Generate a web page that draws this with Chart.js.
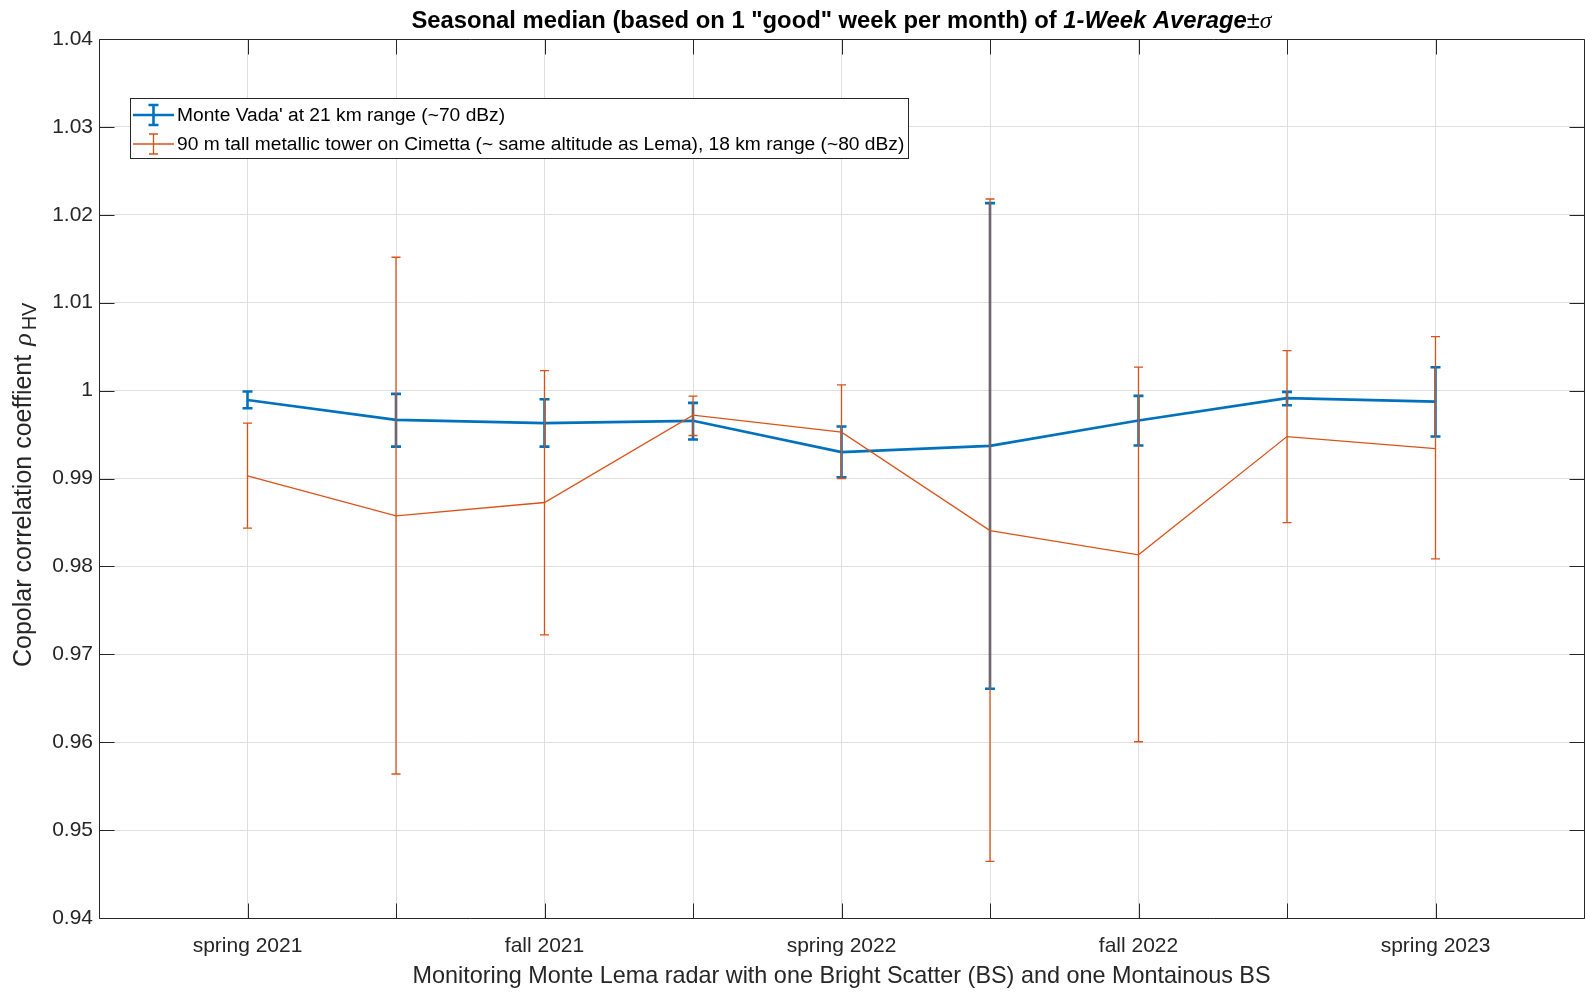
<!DOCTYPE html>
<html>
<head>
<meta charset="utf-8">
<script src="https://cdn.jsdelivr.net/npm/chart.js@4.4.1/dist/chart.umd.min.js"></script>
<style>
html,body{margin:0;padding:0;background:#fff;}
canvas{display:block;}
</style>
</head>
<body>
<canvas id="c" width="1585" height="992" style="width:1585px;height:992px"></canvas>
<script>
// ---- data ----
const categories = ['spring 2021','summer 2021','fall 2021','winter 2021','spring 2022','summer 2022','fall 2022','winter 2022','spring 2023'];
const xTickLabels = ['spring 2021','','fall 2021','','spring 2022','','fall 2022','','spring 2023'];
const yTicks = [0.94,0.95,0.96,0.97,0.98,0.99,1.00,1.01,1.02,1.03,1.04];

const vadaMedian = [0.99894, 0.99667, 0.99630, 0.99656, 0.99300, 0.99371, 0.99659, 0.99914, 0.99875];
const vadaLower  = [0.99800, 0.99363, 0.99363, 0.99443, 0.99015, 0.96608, 0.99375, 0.99834, 0.99477];
const vadaUpper  = [0.99989, 0.99963, 0.99902, 0.99860, 0.99591, 1.02133, 0.99940, 0.99985, 1.00266];

const cimettaMedian = [0.99030, 0.98575, 0.98727, 0.99720, 0.99527, 0.98408, 0.98132, 0.99477, 0.99341];
const cimettaLower  = [0.98435, 0.95638, 0.97222, 0.99489, 0.99000, 0.94644, 0.96005, 0.98499, 0.98086];
const cimettaUpper  = [0.99630, 1.01517, 1.00227, 0.99937, 1.00065, 1.02180, 1.00266, 1.00455, 1.00614];

const seriesNames = ["Monte Vada' at 21 km range (~70 dBz)",
  "90 m tall metallic tower on Cimetta (~ same altitude as Lema), 18 km range (~80 dBz)"];
const titleParts = [
  {t:'Seasonal median (based on 1 "good" week per month) of ', f:'bold 23.8px "Liberation Sans", Arial, sans-serif'},
  {t:'1-Week Average', f:'italic bold 23.8px "Liberation Sans", Arial, sans-serif'},
  {t:'\u00B1', f:'23.8px "Liberation Sans", Arial, sans-serif'},
  {t:'\u03C3', f:'italic 23.8px "Liberation Serif", serif'}
];
const xTitle = 'Monitoring Monte Lema radar with one Bright Scatter (BS) and one Montainous BS';
const yTitleMain = 'Copolar correlation coeffient ';
const yTitleSym = '\u03C1';
const yTitleSub = 'HV';

const BLUE = '#0072BD', ORANGE = '#D95319', AX = '#262626', GRID = '#dfdfdf';
const FONT = '"Liberation Sans", Arial, sans-serif';

const errData = [
  {lo: vadaLower, hi: vadaUpper, color: BLUE, w: 2.6, cap: 5},
  {lo: cimettaLower, hi: cimettaUpper, color: ORANGE, w: 1.3, cap: 4.5}
];

const custom = {
  id: 'custom',
  afterDatasetDraw(chart, args) {
    const e = errData[args.index];
    const ctx = chart.ctx, xs = chart.scales.x, ys = chart.scales.y;
    ctx.save();
    ctx.strokeStyle = e.color; ctx.lineWidth = e.w; ctx.lineCap = 'butt';
    for (let i = 0; i < categories.length; i++) {
      const px = xs.getPixelForValue(i + 1);
      const y1 = ys.getPixelForValue(e.lo[i]);
      const y2 = ys.getPixelForValue(e.hi[i]);
      ctx.beginPath();
      ctx.moveTo(px, y1); ctx.lineTo(px, y2);
      ctx.moveTo(px - e.cap, y1); ctx.lineTo(px + e.cap, y1);
      ctx.moveTo(px - e.cap, y2); ctx.lineTo(px + e.cap, y2);
      ctx.stroke();
    }
    ctx.restore();
  },
  afterDraw(chart) {
    const ctx = chart.ctx, a = chart.chartArea, xs = chart.scales.x, ys = chart.scales.y;
    const L = a.left + 0.5, R = a.right + 0.5, T = a.top + 0.5, B = a.bottom + 0.5;
    ctx.save();
    // box
    ctx.strokeStyle = AX; ctx.lineWidth = 1;
    ctx.beginPath();
    ctx.moveTo(L, T); ctx.lineTo(R, T); ctx.lineTo(R, B); ctx.lineTo(L, B); ctx.closePath();
    ctx.stroke();
    // inward ticks
    const tl = 15;
    ctx.beginPath();
    for (let i = 0; i < categories.length; i++) {
      const px = Math.round(xs.getPixelForValue(i + 1)) + 0.5;
      ctx.moveTo(px, B); ctx.lineTo(px, B - tl);
      ctx.moveTo(px, T); ctx.lineTo(px, T + tl);
    }
    yTicks.forEach(v => {
      const py = Math.round(ys.getPixelForValue(v)) + 0.5;
      ctx.moveTo(L, py); ctx.lineTo(L + tl, py);
      ctx.moveTo(R, py); ctx.lineTo(R - tl, py);
    });
    ctx.stroke();

    // title
    ctx.fillStyle = '#000';
    ctx.textBaseline = 'alphabetic';
    let tw = 0;
    titleParts.forEach(p => { ctx.font = p.f; p.w = ctx.measureText(p.t).width; tw += p.w; });
    let tx = (a.left + a.right) / 2 - tw / 2;
    titleParts.forEach(p => { ctx.font = p.f; ctx.textAlign = 'left'; ctx.fillText(p.t, tx, 27.5); tx += p.w; });

    // x title
    ctx.fillStyle = AX;
    ctx.font = '23.4px ' + FONT;
    ctx.textAlign = 'center';
    ctx.fillText(xTitle, (a.left + a.right) / 2, 983);

    // y title (rotated, with subscript)
    ctx.save();
    ctx.translate(31, 667);
    ctx.rotate(-Math.PI / 2);
    ctx.textAlign = 'left';
    const fMain = '25px ' + FONT, fSym = 'italic 26px "Liberation Serif", serif', fSub = '20px ' + FONT;
    let sx = 0;
    ctx.font = fMain; ctx.fillText(yTitleMain, sx, 0); sx += ctx.measureText(yTitleMain).width + 2;
    ctx.font = fSym; ctx.fillText(yTitleSym, sx, 0); sx += ctx.measureText(yTitleSym).width + 3;
    ctx.font = fSub; ctx.fillText(yTitleSub, sx, 5);
    ctx.restore();

    // legend
    ctx.fillStyle = '#fff';
    ctx.fillRect(130.5, 98.5, 778, 60);
    ctx.strokeStyle = AX; ctx.lineWidth = 1;
    ctx.strokeRect(130.5, 98.5, 778, 60);
    const rows = [115, 144];
    const gl = [133, 174];
    [0, 1].forEach(k => {
      const e = errData[k], y = rows[k];
      const cx = (gl[0] + gl[1]) / 2;
      ctx.strokeStyle = e.color; ctx.lineWidth = e.w;
      ctx.beginPath();
      ctx.moveTo(gl[0], y); ctx.lineTo(gl[1], y);
      ctx.moveTo(cx, y - 10); ctx.lineTo(cx, y + 10);
      ctx.moveTo(cx - e.cap, y - 10); ctx.lineTo(cx + e.cap, y - 10);
      ctx.moveTo(cx - e.cap, y + 10); ctx.lineTo(cx + e.cap, y + 10);
      ctx.stroke();
      ctx.fillStyle = '#000';
      ctx.font = '19.2px ' + FONT;
      ctx.textAlign = 'left'; ctx.textBaseline = 'middle';
      ctx.fillText(seriesNames[k], 177, y + 1);
    });
    ctx.restore();
  }
};

new Chart(document.getElementById('c'), {
  type: 'line',
  data: {
    datasets: [
      {label: seriesNames[0], data: vadaMedian.map((v, i) => ({x: i + 1, y: v})),
       borderColor: BLUE, borderWidth: 2.6, pointRadius: 0, tension: 0, fill: false, order: 1},
      {label: seriesNames[1], data: cimettaMedian.map((v, i) => ({x: i + 1, y: v})),
       borderColor: ORANGE, borderWidth: 1.3, pointRadius: 0, tension: 0, fill: false, order: 0}
    ]
  },
  options: {
    responsive: false, animation: false, devicePixelRatio: 1,
    layout: {padding: {top: 39, right: 1, bottom: 0, left: 0}},
    plugins: {legend: {display: false}, tooltip: {enabled: false}, title: {display: false}},
    scales: {
      x: {
        type: 'linear', min: 0, max: 10,
        afterBuildTicks: s => { s.ticks = categories.map((c, i) => ({value: i + 1})); },
        afterFit: s => { s.height = 74; },
        grid: {color: GRID, drawTicks: false},
        border: {display: false},
        ticks: {autoSkip: false, maxRotation: 0, padding: 16, color: AX,
                font: {family: FONT, size: 21},
                callback: v => xTickLabels[Math.round(v) - 1] || ''}
      },
      y: {
        type: 'linear', min: 0.94, max: 1.04,
        afterBuildTicks: s => { s.ticks = yTicks.map(v => ({value: v})); },
        afterFit: s => { s.width = 99; },
        grid: {color: GRID, drawTicks: false},
        border: {display: false},
        ticks: {padding: 6, color: AX, font: {family: FONT, size: 21},
                callback: v => String(+Number(v).toFixed(2))}
      }
    }
  },
  plugins: [custom]
});
</script>
</body>
</html>
